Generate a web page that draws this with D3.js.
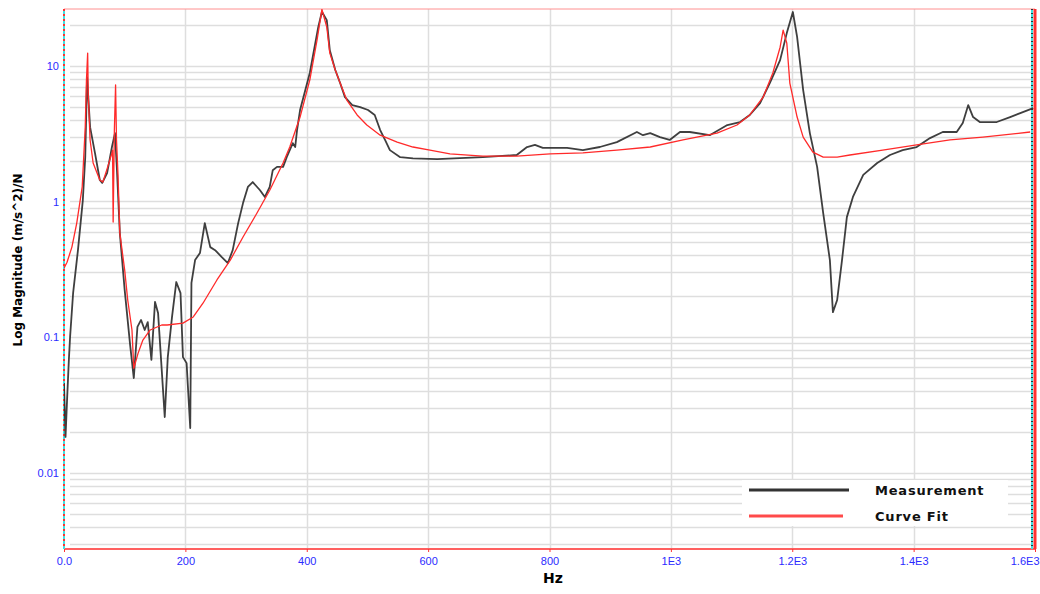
<!DOCTYPE html>
<html>
<head>
<meta charset="utf-8">
<script src="https://cdn.jsdelivr.net/npm/d3@7"></script>
<style>
  body { margin: 0; background: #fff; }
  svg { display: block; font-family: "Liberation Sans", Arial, sans-serif; }
</style>
</head>
<body>
<svg id="chart" width="1040" height="594"></svg>
<script>
"use strict"

// frequency (Hz) / magnitude ((m/s^2)/N)
const measurement = [
  [0, 0.046], [2.5, 0.0184], [5, 0.034], [8, 0.068], [10, 0.1], [15, 0.211], [23, 0.438],
  [31, 1.02], [35, 2.12], [38, 8.26], [43, 3.53], [51, 2.28], [59, 1.44], [63, 1.37],
  [71, 1.62], [79, 2.52], [84, 3.19], [87, 1.8], [92, 0.585], [100, 0.222], [109, 0.0875],
  [115, 0.05], [121, 0.119], [127, 0.134], [133, 0.113], [138, 0.129], [144, 0.068],
  [150, 0.182], [155, 0.151], [163, 0.042], [166, 0.0258], [171, 0.0713], [178, 0.141],
  [185, 0.255], [192, 0.211], [196, 0.0713], [202, 0.0644], [208, 0.0214], [210, 0.251],
  [216, 0.37], [224, 0.417], [232, 0.693], [241, 0.461], [249, 0.438], [260, 0.389],
  [270, 0.352], [278, 0.438], [287, 0.693], [295, 0.973], [303, 1.28], [311, 1.39],
  [323, 1.21], [331, 1.08], [339, 1.28], [344, 1.7], [351, 1.8], [361, 1.8], [367, 2.12],
  [377, 2.69], [381, 2.52], [384, 3.36], [389, 4.72], [405, 8.84], [419, 19.3], [425, 25],
  [433, 21.7], [438, 13.0], [447, 9.3], [455, 7.46], [463, 5.87], [475, 5.13], [488, 4.96],
  [501, 4.72], [512, 4.34], [521, 3.36], [529, 2.84], [537, 2.39], [554, 2.12], [575, 2.08],
  [615, 2.05], [690, 2.12], [746, 2.2], [763, 2.52], [776, 2.61], [789, 2.48], [829, 2.48],
  [855, 2.39], [883, 2.52], [911, 2.74], [944, 3.25], [954, 3.08], [966, 3.19], [982, 2.98],
  [998, 2.84], [1015, 3.25], [1031, 3.25], [1064, 3.08], [1093, 3.66], [1114, 3.85],
  [1130, 4.34], [1147, 5.31], [1163, 7.46], [1180, 11.0], [1191, 17.4], [1201, 24.9],
  [1208, 16.3], [1218, 6.62], [1229, 3.19], [1241, 1.8], [1251, 0.822], [1262, 0.37],
  [1267, 0.153], [1274, 0.188], [1282, 0.37], [1290, 0.767], [1300, 1.08], [1317, 1.57],
  [1340, 1.92], [1361, 2.2], [1382, 2.39], [1405, 2.52], [1427, 2.93], [1448, 3.25],
  [1471, 3.25], [1481, 3.79], [1490, 5.13], [1498, 4.19], [1509, 3.85], [1537, 3.85],
  [1559, 4.19], [1580, 4.56], [1597, 4.88]
]

const curveFit = [
  [0, 0.323], [5, 0.357], [13, 0.461], [21, 0.693], [30, 1.28], [35, 3.53], [37, 7.85],
  [39, 12.4], [40, 6.08], [43, 2.84], [48, 1.92], [59, 1.44], [64, 1.39], [72, 1.8],
  [79, 2.28], [80, 2.39], [81, 0.705], [83, 3.36], [85, 7.22], [86.5, 2.84], [89, 1.57],
  [92, 0.585], [100, 0.312], [105, 0.188], [112, 0.113], [115, 0.059], [122, 0.076],
  [130, 0.0953], [142, 0.113], [161, 0.123], [170, 0.123], [196, 0.127], [213, 0.141],
  [229, 0.178], [252, 0.264], [274, 0.37], [295, 0.547], [318, 0.822], [339, 1.21],
  [361, 1.92], [372, 2.52], [389, 4.19], [405, 7.85], [417, 15.5], [425, 26], [433, 19.3],
  [438, 12.4], [447, 9.3], [455, 7.46], [466, 5.59], [483, 4.34], [499, 3.66], [521, 3.08],
  [549, 2.74], [575, 2.52], [603, 2.39], [636, 2.24], [690, 2.16], [746, 2.16], [801, 2.24],
  [855, 2.28], [911, 2.39], [966, 2.52], [1020, 2.84], [1076, 3.19], [1109, 3.66],
  [1130, 4.34], [1152, 5.87], [1168, 8.84], [1180, 13.7], [1185, 18.3], [1191, 14.7],
  [1196, 7.46], [1208, 4.19], [1218, 2.98], [1234, 2.31], [1251, 2.12], [1274, 2.12],
  [1295, 2.2], [1349, 2.39], [1405, 2.61], [1460, 2.84], [1514, 2.98], [1592, 3.25]
]

const xTicks = [0, 200, 400, 600, 800, 1000, 1200, 1400, 1600]
const xTickLabels = ["0.0", "200", "400", "600", "800", "1E3", "1.2E3", "1.4E3", "1.6E3"]
const yTicks = [0.01, 0.1, 1, 10]
const yTickLabels = ["0.01", "0.1", "1", "10"]
const legendItems = ["Measurement", "Curve Fit"]

const margin = {left: 64, right: 1035, top: 9, bottom: 549}
const svg = d3.select("#chart")

const x = d3.scaleLinear().domain([0, 1600]).range([margin.left, margin.right])
const y = d3.scaleLog().domain([0.00275, 26.2]).range([margin.bottom, margin.top])

// grid lines
const minor = []
for (let e = -3; e <= 1; ++e) {
    for (let m = 1; m <= 9; ++m) {
        const v = m * Math.pow(10, e)
        if (v > y.domain()[0] && v < y.domain()[1]) minor.push(v)
    }
}
svg.append("g").selectAll("line").data(minor).enter().append("line")
    .attr("x1", margin.left + 6).attr("x2", margin.right - 4)
    .attr("y1", d => Math.round(y(d)) + 0.5).attr("y2", d => Math.round(y(d)) + 0.5)
    .style("stroke", "#dedede").style("stroke-width", 1.5)

svg.append("g").selectAll("line").data(xTicks.slice(1, -1)).enter().append("line")
    .attr("x1", d => Math.round(x(d)) + 0.5).attr("x2", d => Math.round(x(d)) + 0.5)
    .attr("y1", margin.top).attr("y2", margin.bottom)
    .style("stroke", "#dedede").style("stroke-width", 1.5)

// frame
svg.append("line").attr("x1", margin.left).attr("x2", margin.right)
    .attr("y1", margin.top).attr("y2", margin.top)
    .style("stroke", "#ff9090").style("stroke-width", 1)
svg.append("line").attr("x1", margin.left).attr("x2", margin.right)
    .attr("y1", margin.bottom).attr("y2", margin.bottom)
    .style("stroke", "#ff6060").style("stroke-width", 2)
svg.append("line").attr("x1", margin.left).attr("x2", margin.left)
    .attr("y1", margin.top).attr("y2", margin.bottom)
    .style("stroke", "#40e0e0").style("stroke-width", 2)
svg.append("line").attr("x1", margin.left).attr("x2", margin.left)
    .attr("y1", margin.top).attr("y2", margin.bottom)
    .style("stroke", "#ff3030").style("stroke-width", 2).style("stroke-dasharray", "2,3")
svg.append("line").attr("x1", margin.right - 3).attr("x2", margin.right - 3)
    .attr("y1", margin.top).attr("y2", margin.bottom)
    .style("stroke", "#40e0e0").style("stroke-width", 2)
svg.append("line").attr("x1", margin.right - 3).attr("x2", margin.right - 3)
    .attr("y1", margin.top).attr("y2", margin.bottom)
    .style("stroke", "#333").style("stroke-width", 2).style("stroke-dasharray", "1,3")
svg.append("line").attr("x1", margin.right).attr("x2", margin.right)
    .attr("y1", margin.top).attr("y2", margin.bottom)
    .style("stroke", "#ff3030").style("stroke-width", 3)

// axes
const xAxis = d3.axisBottom(x).tickValues(xTicks)
    .tickFormat((d, i) => xTickLabels[i]).tickSize(3)
const gx = svg.append("g").attr("transform", "translate(0," + margin.bottom + ")").call(xAxis)
gx.select(".domain").remove()
gx.selectAll(".tick line").style("stroke", "#ff3030")
gx.selectAll(".tick text").style("fill", "#2b2bff").style("font-size", "11px").attr("dy", "0.9em")
gx.selectAll(".tick text").filter((d, i) => i === xTicks.length - 1).attr("text-anchor", "end").attr("dx", "4")

const yAxis = d3.axisLeft(y).tickValues(yTicks)
    .tickFormat((d, i) => yTickLabels[i]).tickSize(0).tickPadding(5)
const gy = svg.append("g").attr("transform", "translate(" + margin.left + ",0)").call(yAxis)
gy.select(".domain").remove()
gy.selectAll(".tick text").style("fill", "#2b2bff").style("font-size", "11px")

svg.append("text").attr("x", 553).attr("y", 583).attr("text-anchor", "middle")
    .style("font-family", "'DejaVu Sans', sans-serif")
    .style("font-weight", "bold").style("font-size", "14px").text("Hz")
svg.append("text").attr("transform", "translate(22,260) rotate(-90)").attr("text-anchor", "middle")
    .style("font-family", "'DejaVu Sans', sans-serif")
    .style("font-weight", "bold").style("font-size", "12px").text("Log Magnitude (m/s^2)/N")

// curves
svg.append("clipPath").attr("id", "plot-clip").append("rect")
    .attr("x", margin.left).attr("y", margin.top)
    .attr("width", margin.right - margin.left).attr("height", margin.bottom - margin.top)

const line = d3.line().x(d => x(d[0])).y(d => y(d[1]))

const plot = svg.append("g").attr("clip-path", "url(#plot-clip)")
plot.append("path").datum(measurement).attr("d", line)
    .style("fill", "none").style("stroke", "#2a2a2a").style("stroke-width", 1.8)
    .style("stroke-linejoin", "round").style("opacity", 0.9)
plot.append("path").datum(curveFit).attr("d", line)
    .style("fill", "none").style("stroke", "#ff2a2a").style("stroke-width", 1.3)
    .style("stroke-linejoin", "round")

// legend
svg.append("rect").attr("x", 742).attr("y", 480).attr("width", 266).attr("height", 46).style("fill", "#fff")
const legendColors = ["#333", "#ff4a4a"]
const legendY = [490, 516]
const legendLen = [100, 94]
legendItems.forEach((name, i) => {
    svg.append("line").attr("x1", 749).attr("x2", 749 + legendLen[i])
        .attr("y1", legendY[i]).attr("y2", legendY[i])
        .style("stroke", legendColors[i]).style("stroke-width", 3)
    svg.append("text").attr("x", 875).attr("y", legendY[i]).attr("dy", "0.35em")
        .style("font-family", "'DejaVu Sans', sans-serif").style("letter-spacing", "0.8px")
        .style("font-weight", "bold").style("font-size", "13px").style("fill", "#111").text(name)
})
</script>
</body>
</html>
